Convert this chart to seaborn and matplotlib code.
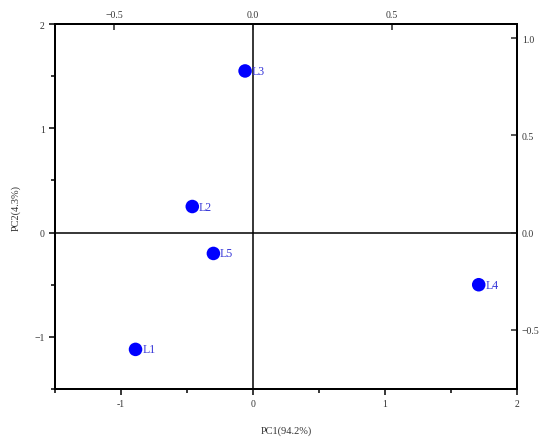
import numpy as np
import pandas as pd
import matplotlib
matplotlib.use("Agg")
import matplotlib.pyplot as plt
import seaborn as sns
from matplotlib.ticker import MultipleLocator

# PCA scores
samples = ["L1", "L2", "L3", "L4", "L5"]
pc1 = [-0.89, -0.46, -0.06, 1.71, -0.30]
pc2 = [-1.12, 0.25, 1.55, -0.50, -0.20]

# secondary (loading) axes tick values
top_ticks = [-0.5, 0.0, 0.5]
right_ticks = [-0.5, 0.0, 0.5, 1.0]

sns.set_theme(style="ticks")
plt.rcParams['font.family'] = ['Liberation Serif', 'DejaVu Serif']

df = pd.DataFrame({"sample": samples, "PC1": pc1, "PC2": pc2})

fig = plt.figure(figsize=(5.5, 4.39), dpi=100)
ax = fig.add_axes([0.1, 0.1116, 0.84, 0.8314])

ax.axhline(0, color="black", lw=1.1, zorder=1)
ax.axvline(0, color="black", lw=1.1, zorder=1)

sns.scatterplot(data=df, x="PC1", y="PC2", ax=ax, color="#0000ff",
                s=95, edgecolor="none", zorder=3)
for _, r in df.iterrows():
    ax.text(r["PC1"] + 0.05, r["PC2"], r["sample"], color="#3535d8",
            fontsize=8.5, va="center", ha="left")

ax.set_xlim(-1.5, 2)
ax.set_ylim(-1.5, 2)
ax.xaxis.set_major_locator(MultipleLocator(1))
ax.xaxis.set_minor_locator(MultipleLocator(0.5))
ax.yaxis.set_major_locator(MultipleLocator(1))
ax.yaxis.set_minor_locator(MultipleLocator(0.5))
ax.tick_params(which="both", direction="out", colors="black", labelcolor="#333333",
               labelsize=7, width=1.1)
ax.tick_params(which="major", length=4)
ax.tick_params(which="minor", length=3)
ax.set_xticklabels([str(int(v)) if v != 0 else "0" for v in ax.get_xticks()])
ax.set_xlabel("PC1(94.2%)", fontsize=7.5, color="#333333", labelpad=12)
ax.set_ylabel("PC2(4.3%)", fontsize=7.5, color="#333333", labelpad=10)
for sp in ax.spines.values():
    sp.set_linewidth(1.3)
    sp.set_color("black")

# top axis for loadings on PC1
axt = ax.twiny()
axt.set_xlim(-1.5 * 0.475, 2 * 0.475)
axt.set_xticks(top_ticks)
axt.set_xticklabels([f"{v:.1f}".replace("-", "\u2212") for v in top_ticks])
axt.tick_params(direction="in", length=4, width=1.1, labelsize=7, labelcolor="#333333")

# right axis for loadings on PC2
axr = ax.twinx()
axr.set_ylim(-1.5 * 0.536, 2 * 0.536)
axr.set_yticks(right_ticks)
axr.set_yticklabels([f"{v:.1f}".replace("-", "\u2212") for v in right_ticks])
axr.tick_params(direction="in", length=4, width=1.1, labelsize=7, labelcolor="#333333")

for a in (axt, axr):
    for sp in a.spines.values():
        sp.set_linewidth(1.3)
        sp.set_color("black")

fig.savefig("out.png", dpi=100)
